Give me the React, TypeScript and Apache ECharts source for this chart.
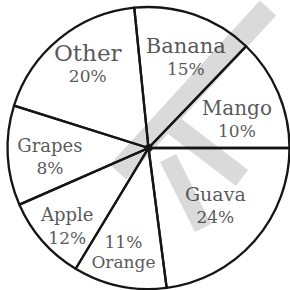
import React, { useEffect, useRef } from "react";
import * as echarts from "echarts";

// Categories, in drawing order (counter-clockwise from 3 o'clock)
const fruits = ["Mango", "Banana", "Other", "Grapes", "Apple", "Orange", "Guava"];
// Printed shares (%)
const shares = [10, 15, 20, 8, 12, 11, 24];
// Slice sizes as drawn in the figure (degrees, measured)
const drawnDegrees = [46.2, 49.6, 66.7, 41.2, 35.2, 38.5, 82.6];

// label styling / placement (radius from centre, angle nudge in degrees)
const nameSize: Record<string, number> = {
  Mango: 20, Banana: 21, Other: 23, Grapes: 18, Apple: 18, Orange: 17, Guava: 19,
};
const labelPlacement: Record<string, [number, number]> = {
  Mango: [93, -5], Banana: [98, -3.4], Other: [103, -3], Grapes: [99, 2],
  Apple: [113, 2.7], Orange: [107, -1.7], Guava: [88, 0.7],
};

function band(x1: number, y1: number, x2: number, y2: number, w: number): number[][] {
  const dx = x2 - x1, dy = y2 - y1;
  const L = Math.hypot(dx, dy);
  const nx = (-dy / L) * (w / 2), ny = (dx / L) * (w / 2);
  return [
    [x1 + nx, y1 + ny],
    [x2 + nx, y2 + ny],
    [x2 - nx, y2 - ny],
    [x1 - nx, y1 - ny],
  ];
}

export default function App() {
  const ref = useRef<HTMLDivElement>(null);
  useEffect(() => {
    if (!ref.current) return;
    const chart = echarts.init(ref.current, undefined, { renderer: "svg" });
    const center = [148.5, 148];
    const R = 141;
    const sliceData = fruits.map((f, i) => ({ name: f, value: drawnDegrees[i] }));
    // mid-angle of every slice, from the cumulative drawn sizes
    let acc = 0;
    const labelData = fruits.map((f, i) => {
      const mid = acc + drawnDegrees[i] / 2;
      acc += drawnDegrees[i];
      const [r, da] = labelPlacement[f];
      return { name: f, share: shares[i], value: [r, mid + da] };
    });
    const font = { fontFamily: "DejaVu Serif", color: "#2b2b2b" };
    const rich: any = {
      p: { ...font, fontSize: 17, lineHeight: 23 },
      po: { ...font, fontSize: 17, lineHeight: 20 },
      no: { ...font, fontSize: 17, lineHeight: 20 },
    };
    Object.values(nameSize).forEach((s) => {
      rich["n" + s] = { ...font, fontSize: s, lineHeight: 23 };
    });
    const gray = "#dadada";
    chart.setOption({
      animation: false,
      backgroundColor: "#ffffff",
      polar: { center, radius: R },
      angleAxis: { type: "value", min: 0, max: 360, startAngle: 0, clockwise: false, show: false },
      radiusAxis: { type: "value", min: 0, max: R, show: false },
      graphic: [
        { type: "polygon", z: 0, silent: true, shape: { points: band(118, 172, 268, 8, 22) }, style: { fill: gray } },
        { type: "polygon", z: 0, silent: true, shape: { points: band(160, 115, 242, 178, 20) }, style: { fill: gray } },
        { type: "polygon", z: 0, silent: true, shape: { points: band(168, 158, 203, 228, 18) }, style: { fill: gray } },
      ],
      series: [
        {
          type: "pie",
          silent: true,
          center,
          radius: [0, R],
          startAngle: 0,
          clockwise: false,
          label: { show: false },
          labelLine: { show: false },
          emphasis: { disabled: true },
          itemStyle: { color: "rgba(0,0,0,0)", borderColor: "#151515", borderWidth: 2.3 },
          data: sliceData,
          z: 3,
        },
        {
          type: "scatter",
          coordinateSystem: "polar",
          silent: true,
          symbolSize: 1,
          itemStyle: { color: "rgba(0,0,0,0)" },
          label: {
            show: true,
            position: "inside",
            rich,
            formatter: (p: any) => {
              if (p.name === "Orange") return "{po|" + p.data.share + "%}\n{no|" + p.name + "}";
              return "{n" + nameSize[p.name] + "|" + p.name + "}\n{p|" + p.data.share + "%}";
            },
          },
          data: labelData,
          z: 4,
        },
        {
          type: "pie",
          silent: true,
          center,
          radius: [0, 4],
          label: { show: false },
          labelLine: { show: false },
          emphasis: { disabled: true },
          itemStyle: { color: "#151515" },
          data: [{ name: "centre", value: 1 }],
          z: 5,
        },
      ],
    });
    return () => chart.dispose();
  }, []);
  return (
    <div
      ref={ref}
      style={{ position: "fixed", left: 0, top: 0, width: 290, height: 290, background: "#fff" }}
    />
  );
}
